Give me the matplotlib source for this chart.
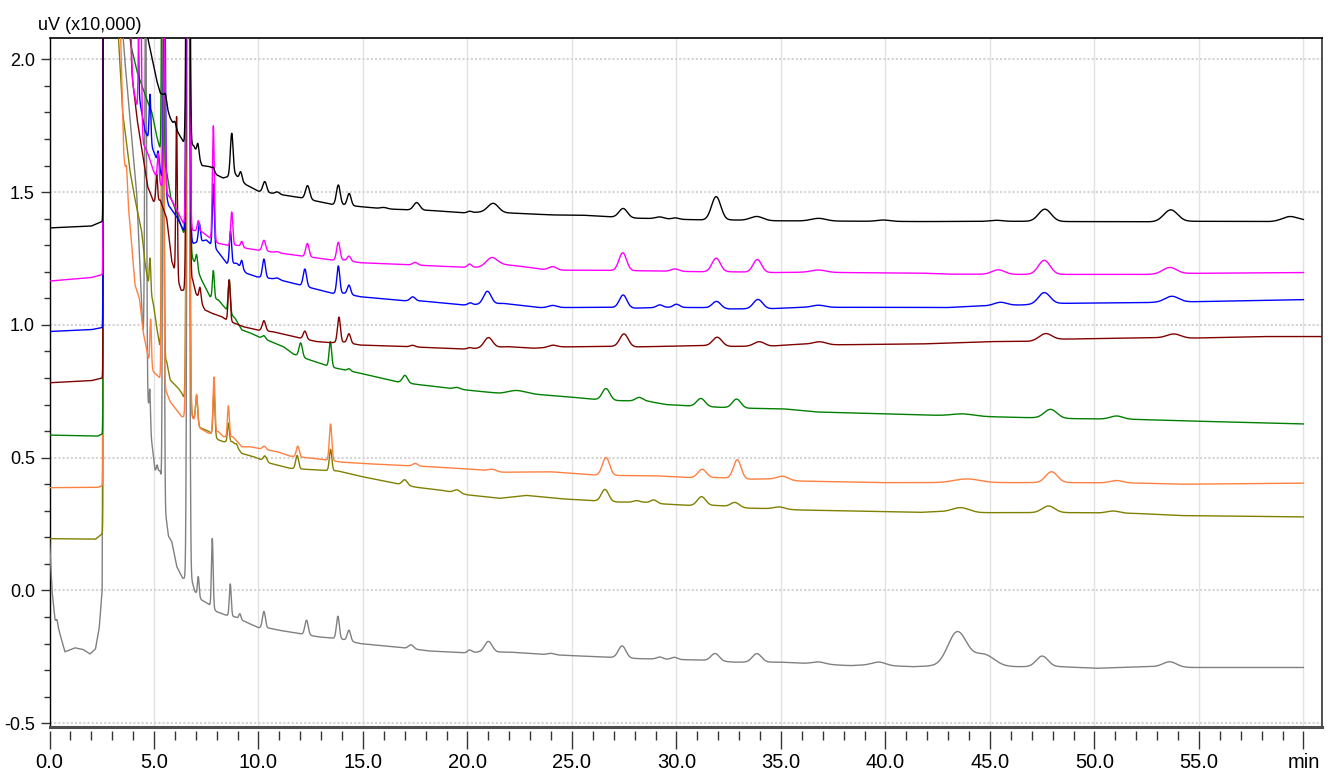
import numpy as np
import matplotlib.pyplot as plt
from matplotlib.ticker import MultipleLocator

plt.rcParams['font.family'] = ['Liberation Sans Narrow', 'Liberation Sans', 'DejaVu Sans']

# axis ticks
x_ticks = [0, 5, 10, 15, 20, 25, 30, 35, 40, 45, 50, 55, 60]
x_labels = ['0.0', '5.0', '10.0', '15.0', '20.0', '25.0', '30.0', '35.0',
            '40.0', '45.0', '50.0', '55.0', 'min']
y_ticks = [-0.5, 0.0, 0.5, 1.0, 1.5, 2.0]
y_labels = ['-0.5', '0.0', '0.5', '1.0', '1.5', '2.0']

# every run: baseline knots (min, signal) and peak table (rt, height, sigma)
black_base = [(0, 1.365), (2.0, 1.372), (2.55, 1.39), (2.64, 3.0), (4.3, 2.5), (4.65, 2.1),
              (5.13, 1.92), (5.3, 1.873), (5.45, 1.865), (5.77, 1.78), (6.0, 1.745),
              (6.4, 1.69), (6.9, 1.675), (7.3, 1.60), (7.7, 1.595), (8.0, 1.565),
              (8.3, 1.553), (8.9, 1.565), (9.4, 1.528), (10.0, 1.503), (10.7, 1.495),
              (12.0, 1.479), (12.9, 1.464), (13.5, 1.454), (14.1, 1.452), (14.9, 1.445),
              (16.0, 1.437), (17.2, 1.433), (18.2, 1.431), (19.8, 1.422), (20.8, 1.425),
              (22.4, 1.42), (24.0, 1.414), (25.5, 1.413), (27.0, 1.406), (28.0, 1.402),
              (31.3, 1.395), (32.6, 1.395), (34.6, 1.392), (41.7, 1.389), (46.7, 1.39),
              (48.7, 1.389), (52.8, 1.388), (54.6, 1.39), (58.4, 1.389), (60.0, 1.394)]
black_peaks = [(2.62, 6, 0.025), (5.55, 0.03, 0.05), (6.0, 0.02, 0.05), (6.63, 4, 0.055),
               (7.1, 0.045, 0.05), (7.84, 0.012, 0.05), (8.72, 0.16, 0.065),
               (9.15, 0.03, 0.06), (10.3, 0.04, 0.09), (10.9, 0.008, 0.1),
               (12.35, 0.051, 0.1), (13.82, 0.074, 0.09), (14.34, 0.045, 0.09),
               (16.0, 0.005, 0.15), (17.57, 0.028, 0.15), (20.1, 0.005, 0.1),
               (21.23, 0.034, 0.25), (27.45, 0.034, 0.2), (29.2, 0.007, 0.2),
               (29.95, 0.005, 0.15), (31.9, 0.088, 0.22), (33.84, 0.015, 0.3),
               (36.8, 0.01, 0.35), (39.9, 0.005, 0.3), (45.3, 0.004, 0.3),
               (47.63, 0.046, 0.3), (53.65, 0.044, 0.33), (59.35, 0.016, 0.35)]

magenta_base = [(0, 1.165), (2.0, 1.178), (2.55, 1.19), (2.64, 3.0), (3.6, 2.3), (4.0, 1.9),
                (4.5, 1.68), (4.73, 1.64), (4.97, 1.58), (5.3, 1.53), (5.85, 1.47),
                (6.4, 1.383), (6.8, 1.357), (7.3, 1.35), (7.6, 1.332), (8.08, 1.307),
                (8.5, 1.30), (9.0, 1.30), (9.43, 1.288), (9.91, 1.282), (10.87, 1.272),
                (12.07, 1.259), (12.9, 1.251), (13.5, 1.244), (14.1, 1.244), (14.86, 1.234),
                (17.25, 1.226), (19.8, 1.217), (20.5, 1.217), (21.6, 1.228), (22.4, 1.222),
                (23.6, 1.209), (24.5, 1.206), (26.8, 1.205), (28.0, 1.204), (31.28, 1.2),
                (32.5, 1.2), (34.63, 1.197), (36.0, 1.198), (41.65, 1.195), (43.0, 1.191),
                (46.7, 1.19), (48.7, 1.19), (52.5, 1.19), (54.6, 1.194), (60.0, 1.197)]
magenta_peaks = [(2.62, 6, 0.025), (3.77, 1.5, 0.06), (4.33, 0.9, 0.05), (5.2, 0.1, 0.04),
                 (5.5, 0.6, 0.04), (6.63, 4, 0.055), (7.12, 0.04, 0.05), (7.84, 0.43, 0.045),
                 (8.72, 0.125, 0.05), (9.2, 0.02, 0.05), (10.26, 0.04, 0.08),
                 (10.9, 0.004, 0.1), (12.34, 0.05, 0.08), (13.82, 0.067, 0.08),
                 (14.33, 0.018, 0.08), (17.5, 0.01, 0.12), (20.1, 0.012, 0.1),
                 (21.16, 0.03, 0.25), (24.08, 0.012, 0.18), (27.43, 0.067, 0.18),
                 (29.93, 0.009, 0.18), (31.9, 0.051, 0.2), (33.87, 0.048, 0.2),
                 (36.8, 0.009, 0.35), (45.4, 0.017, 0.3), (47.6, 0.053, 0.28),
                 (53.6, 0.024, 0.33)]

blue_base = [(0, 0.975), (2.0, 0.982), (2.55, 0.99), (2.64, 3.0), (3.8, 2.3), (4.3, 1.85),
             (4.57, 1.73), (4.75, 1.70), (5.05, 1.64), (5.3, 1.58), (5.7, 1.45),
             (6.09, 1.407), (6.4, 1.357), (6.88, 1.307), (7.5, 1.32), (8.0, 1.282),
             (8.48, 1.232), (8.96, 1.232), (9.43, 1.194), (9.91, 1.181), (10.87, 1.172),
             (11.99, 1.15), (12.78, 1.134), (13.5, 1.119), (14.1, 1.119), (14.86, 1.106),
             (16.93, 1.091), (17.8, 1.09), (19.8, 1.075), (20.5, 1.077), (21.7, 1.081),
             (23.47, 1.065), (26.8, 1.066), (28.0, 1.063), (29.6, 1.066), (31.3, 1.065),
             (32.5, 1.06), (34.5, 1.061), (36.0, 1.066), (41.65, 1.066), (42.9, 1.065),
             (44.5, 1.071), (46.5, 1.075), (48.4, 1.081), (52.5, 1.084), (54.6, 1.087),
             (60.0, 1.095)]
blue_peaks = [(2.62, 6, 0.025), (3.93, 1.5, 0.05), (4.17, 1.0, 0.05), (4.81, 0.18, 0.04),
              (5.2, 0.05, 0.04), (5.5, 1.0, 0.04), (6.63, 4, 0.055), (7.17, 0.07, 0.05),
              (7.84, 0.236, 0.045), (8.66, 0.12, 0.05), (9.2, 0.03, 0.05),
              (10.26, 0.07, 0.07), (10.9, 0.005, 0.1), (12.22, 0.065, 0.08),
              (13.82, 0.103, 0.07), (14.33, 0.035, 0.08), (17.38, 0.015, 0.12),
              (20.13, 0.007, 0.1), (20.95, 0.048, 0.18), (24.08, 0.008, 0.2),
              (27.45, 0.048, 0.18), (29.2, 0.01, 0.15), (30.0, 0.012, 0.15),
              (31.92, 0.026, 0.2), (33.9, 0.035, 0.22), (36.8, 0.008, 0.3),
              (45.5, 0.012, 0.3), (47.6, 0.043, 0.28), (53.7, 0.022, 0.33)]

maroon_base = [(0, 0.782), (2.0, 0.79), (2.55, 0.80), (2.64, 3.0), (3.7, 2.3), (3.9, 1.97),
               (4.2, 1.77), (4.7, 1.52), (4.97, 1.465), (5.3, 1.47), (5.61, 1.40),
               (5.85, 1.24), (6.3, 1.13), (6.5, 1.13), (6.85, 1.17), (7.0, 1.12),
               (7.44, 1.056), (7.76, 1.044), (8.24, 1.031), (8.48, 1.018), (9.27, 0.993),
               (9.99, 0.98), (10.7, 0.974), (12.0, 0.95), (12.8, 0.937), (13.42, 0.933),
               (14.1, 0.935), (14.86, 0.924), (17.1, 0.918), (19.8, 0.909), (20.5, 0.912),
               (21.9, 0.918), (23.15, 0.912), (24.5, 0.917), (27.0, 0.919), (28.0, 0.917),
               (31.3, 0.922), (32.6, 0.919), (34.5, 0.92), (36.0, 0.928), (37.5, 0.925),
               (41.65, 0.928), (45.0, 0.937), (46.9, 0.938), (48.35, 0.946), (52.5, 0.952),
               (54.6, 0.95), (58.0, 0.956), (60.9, 0.956)]
maroon_peaks = [(2.62, 6, 0.025), (3.8, 1.0, 0.05), (5.13, 0.1, 0.04), (6.08, 0.6, 0.035),
                (6.63, 4, 0.055), (7.2, 0.05, 0.05), (8.6, 0.155, 0.05),
                (10.26, 0.038, 0.08), (12.22, 0.03, 0.08), (13.85, 0.095, 0.07),
                (14.33, 0.035, 0.08), (17.38, 0.006, 0.12), (20.1, 0.004, 0.1),
                (21.0, 0.038, 0.2), (24.08, 0.008, 0.2), (27.49, 0.048, 0.2),
                (31.95, 0.033, 0.22), (33.96, 0.017, 0.25), (36.86, 0.01, 0.3),
                (47.66, 0.025, 0.3), (53.8, 0.015, 0.33)]

green_base = [(0, 0.585), (2.3, 0.581), (2.55, 0.59), (2.64, 3.0), (3.3, 2.4), (3.9, 2.05),
              (4.2, 1.95), (4.6, 1.86), (4.9, 1.80), (5.13, 1.71), (5.3, 1.66), (5.6, 1.58),
              (5.8, 1.48), (6.1, 1.42), (6.4, 1.35), (6.88, 1.244), (7.28, 1.169),
              (7.68, 1.106), (8.08, 1.094), (8.48, 1.056), (8.88, 1.025), (9.2, 0.981),
              (9.6, 0.97), (10.0, 0.955), (10.5, 0.94), (11.19, 0.918), (11.67, 0.89),
              (12.38, 0.87), (13.18, 0.849), (13.71, 0.837), (14.86, 0.818), (16.61, 0.786),
              (17.57, 0.776), (19.16, 0.761), (21.55, 0.742), (23.0, 0.74), (24.7, 0.73),
              (26.0, 0.72), (27.14, 0.715), (28.65, 0.712), (29.5, 0.70), (30.57, 0.695),
              (32.0, 0.69), (33.44, 0.686), (35.1, 0.684), (36.7, 0.672), (41.65, 0.661),
              (46.1, 0.652), (48.98, 0.647), (52.0, 0.644), (54.1, 0.639), (60.0, 0.627)]
green_peaks = [(2.62, 6, 0.025), (5.42, 2.0, 0.04), (6.63, 4, 0.055), (7.04, 0.05, 0.05),
               (7.84, 0.103, 0.045), (8.6, 0.123, 0.05), (10.26, 0.012, 0.08),
               (12.02, 0.052, 0.08), (13.44, 0.094, 0.06), (14.33, 0.008, 0.08),
               (17.01, 0.028, 0.12), (19.5, 0.006, 0.15), (22.35, 0.012, 0.4),
               (26.63, 0.043, 0.18), (28.22, 0.014, 0.18), (31.17, 0.03, 0.2),
               (32.88, 0.033, 0.2), (43.7, 0.008, 0.5), (47.9, 0.033, 0.3),
               (51.06, 0.012, 0.3)]

orange_base = [(0, 0.387), (2.3, 0.388), (2.55, 0.395), (2.64, 3.0), (3.4, 2.1), (3.55, 1.65),
               (3.7, 1.5), (3.85, 1.38), (4.09, 1.15), (4.3, 1.1), (4.49, 0.97),
               (4.73, 0.874), (4.97, 0.824), (5.37, 0.793), (5.77, 0.711), (6.33, 0.654),
               (6.8, 0.655), (7.2, 0.611), (7.6, 0.592), (8.08, 0.598), (8.32, 0.579),
               (8.77, 0.579), (9.2, 0.541), (9.59, 0.541), (10.0, 0.535), (10.87, 0.523),
               (11.5, 0.506), (12.3, 0.50), (12.9, 0.495), (14.0, 0.483), (15.0, 0.478),
               (16.5, 0.472), (18.2, 0.466), (19.8, 0.458), (20.5, 0.455), (21.55, 0.445),
               (23.95, 0.447), (26.0, 0.435), (27.1, 0.433), (28.9, 0.432), (30.65, 0.425),
               (32.0, 0.425), (33.5, 0.419), (34.6, 0.42), (35.9, 0.412), (39.7, 0.406),
               (41.65, 0.406), (46.6, 0.406), (49.3, 0.406), (52.3, 0.404), (54.1, 0.40),
               (60.0, 0.404)]
orange_peaks = [(2.62, 6, 0.025), (3.69, 0.08, 0.04), (4.84, 0.17, 0.035), (5.42, 2.5, 0.04),
                (6.63, 4, 0.055), (7.04, 0.11, 0.05), (7.87, 0.208, 0.045),
                (8.56, 0.116, 0.045), (10.28, 0.012, 0.08), (11.88, 0.04, 0.07),
                (13.45, 0.138, 0.06), (17.5, 0.01, 0.12), (21.2, 0.008, 0.2),
                (26.63, 0.067, 0.17), (31.23, 0.031, 0.2), (32.91, 0.071, 0.18),
                (35.08, 0.013, 0.25), (43.9, 0.014, 0.6), (47.95, 0.041, 0.28),
                (51.06, 0.009, 0.3)]

olive_base = [(0, 0.195), (2.2, 0.193), (2.55, 0.215), (2.64, 3.0), (3.5, 1.8), (3.85, 1.58),
              (4.05, 1.49), (4.41, 1.352), (4.57, 1.232), (4.73, 1.157), (4.97, 1.08),
              (5.13, 0.99), (5.29, 0.915), (5.61, 0.861), (5.77, 0.793), (6.17, 0.761),
              (6.33, 0.743), (6.8, 0.661), (7.2, 0.613), (7.6, 0.60), (8.08, 0.567),
              (8.32, 0.56), (8.77, 0.56), (9.2, 0.516), (9.75, 0.504), (10.55, 0.479),
              (11.5, 0.46), (12.5, 0.455), (13.2, 0.452), (13.8, 0.45), (14.86, 0.43),
              (16.5, 0.404), (17.6, 0.388), (18.7, 0.378), (20.0, 0.36), (21.55, 0.347),
              (22.8, 0.358), (24.5, 0.345), (26.0, 0.338), (27.2, 0.333), (28.5, 0.332),
              (29.3, 0.326), (30.65, 0.32), (32.0, 0.32), (33.43, 0.31), (34.5, 0.308),
              (35.9, 0.303), (41.65, 0.294), (42.5, 0.297), (44.5, 0.293), (46.5, 0.293),
              (49.0, 0.293), (50.0, 0.292), (52.0, 0.29), (54.1, 0.282), (60.0, 0.277)]
olive_peaks = [(2.62, 6, 0.025), (4.81, 0.12, 0.035), (5.42, 2.5, 0.04), (6.63, 4, 0.055),
               (7.04, 0.1, 0.05), (7.87, 0.163, 0.045), (8.56, 0.07, 0.045),
               (8.95, 0.01, 0.05), (10.31, 0.02, 0.08), (11.85, 0.05, 0.07),
               (13.45, 0.08, 0.06), (17.0, 0.02, 0.12), (19.5, 0.012, 0.15),
               (26.58, 0.045, 0.17), (28.1, 0.006, 0.15), (28.92, 0.012, 0.15),
               (31.2, 0.033, 0.2), (32.8, 0.017, 0.2), (34.92, 0.008, 0.25),
               (43.6, 0.017, 0.4), (47.8, 0.025, 0.3), (50.9, 0.008, 0.3)]

gray_base = [(0, 0.19), (0.12, 0.0), (0.26, -0.11), (0.45, -0.15), (0.74, -0.231),
             (1.22, -0.216), (1.6, -0.222), (1.94, -0.239), (2.2, -0.22), (2.38, -0.14),
             (2.52, 0.0), (2.64, 3.0), (3.6, 2.0), (4.17, 1.5), (4.45, 1.0), (4.7, 0.72),
             (4.89, 0.56), (5.05, 0.454), (5.3, 0.45), (5.69, 0.205), (5.85, 0.184),
             (6.09, 0.09), (6.37, 0.046), (6.8, 0.04), (6.96, -0.004), (7.28, -0.036),
             (7.6, -0.05), (8.0, -0.08), (8.4, -0.092), (8.88, -0.099), (9.35, -0.117),
             (9.99, -0.14), (10.52, -0.142), (11.0, -0.15), (12.0, -0.163), (12.9, -0.175),
             (13.6, -0.18), (14.1, -0.185), (14.86, -0.2), (16.8, -0.215), (18.2, -0.228),
             (19.9, -0.235), (20.5, -0.232), (22.0, -0.232), (23.5, -0.24), (26.3, -0.25),
             (28.3, -0.257), (31.1, -0.262), (32.8, -0.27), (35.0, -0.27), (38.3, -0.283),
             (39.2, -0.28), (41.3, -0.287), (42.1, -0.285), (46.4, -0.287), (48.35, -0.287),
             (50.1, -0.293), (52.5, -0.287), (54.6, -0.29), (60.0, -0.29)]
gray_peaks = [(0.36, 0.02, 0.04), (2.62, 6, 0.025), (4.6, 1.5, 0.04), (4.8, 0.12, 0.03),
              (5.15, 0.02, 0.03), (5.45, 2.5, 0.035), (6.64, 4, 0.05), (7.12, 0.072, 0.04),
              (7.79, 0.26, 0.04), (8.65, 0.12, 0.045), (9.11, 0.02, 0.05),
              (10.26, 0.062, 0.07), (12.3, 0.055, 0.08), (13.8, 0.085, 0.07),
              (14.33, 0.04, 0.08), (17.3, 0.015, 0.12), (20.1, 0.01, 0.1),
              (21.0, 0.04, 0.18), (24.0, 0.005, 0.15), (27.4, 0.045, 0.18),
              (29.2, 0.008, 0.15), (29.9, 0.008, 0.15), (31.85, 0.028, 0.2),
              (33.85, 0.032, 0.22), (36.8, 0.008, 0.3), (39.7, 0.012, 0.3),
              (43.44, 0.129, 0.45), (44.7, 0.045, 0.5), (47.5, 0.04, 0.28),
              (53.6, 0.02, 0.33)]

runs = [
    ('#808080', gray_base, gray_peaks),
    ('#808000', olive_base, olive_peaks),
    ('#ff8040', orange_base, orange_peaks),
    ('#008000', green_base, green_peaks),
    ('#800000', maroon_base, maroon_peaks),
    ('#0000ff', blue_base, blue_peaks),
    ('#ff00ff', magenta_base, magenta_peaks),
    ('#000000', black_base, black_peaks),
]


def chromatogram(base, peaks):
    bt, bv = zip(*base)
    t = np.arange(0, bt[-1] + 0.0025, 0.005)
    y = np.interp(t, bt, bv)
    for rt, h, w in peaks:
        y = y + h * np.exp(-0.5 * ((t - rt) / w) ** 2)
    return t, y


fig = plt.figure(figsize=(13.38, 7.82), dpi=100)
ax = fig.add_axes([49.5 / 1338, 1 - 726.7 / 782, (1322 - 49.5) / 1338, (726.7 - 38.3) / 782])

# ticks hang a little below the heavy base line (set before the ticks, it resets them)
ax.spines['bottom'].set_position(('outward', 3))
ax.spines['bottom'].set_color('none')

for color, base, peaks in runs:
    t, y = chromatogram(base, peaks)
    ax.plot(t, y, color=color, lw=1.0, zorder=3)

ax.set_xlim(0, 60.89)
ax.set_ylim(-0.513, 2.079)

ax.set_xticks(x_ticks)
ax.set_xticklabels(x_labels)
ax.set_yticks(y_ticks)
ax.set_yticklabels(y_labels)
ax.xaxis.set_minor_locator(MultipleLocator(1))
ax.yaxis.set_minor_locator(MultipleLocator(0.1))

ax.tick_params(axis='x', which='major', length=13, width=1, color='#333333', pad=3,
               labelsize=14.5)
ax.tick_params(axis='x', which='minor', length=6.5, width=1, color='#333333')
ax.tick_params(axis='y', which='major', length=6.5, width=1, color='#333333', pad=4,
               labelsize=13)
ax.tick_params(axis='y', which='minor', length=4.5, width=1, color='#333333')

ax.grid(axis='x', which='major', color='#e2e2e2', lw=1.0, ls='-', zorder=0)
ax.grid(axis='y', which='major', color='#d4d4d4', lw=1.5, ls=(0, (1, 1)), zorder=0)

ax.axhline(-0.513, color='#4d4d4d', lw=2.2, clip_on=False, zorder=4)
ax.spines['top'].set_color('black')
ax.spines['top'].set_linewidth(1.2)
ax.spines['left'].set_color('black')
ax.spines['left'].set_linewidth(1.0)
ax.spines['right'].set_color('#333333')
ax.spines['right'].set_linewidth(1.2)

fig.text(38 / 1338, 1 - 30 / 782, 'uV (x10,000)', fontsize=13, ha='left', va='baseline')

fig.savefig('out.png', dpi=100)
